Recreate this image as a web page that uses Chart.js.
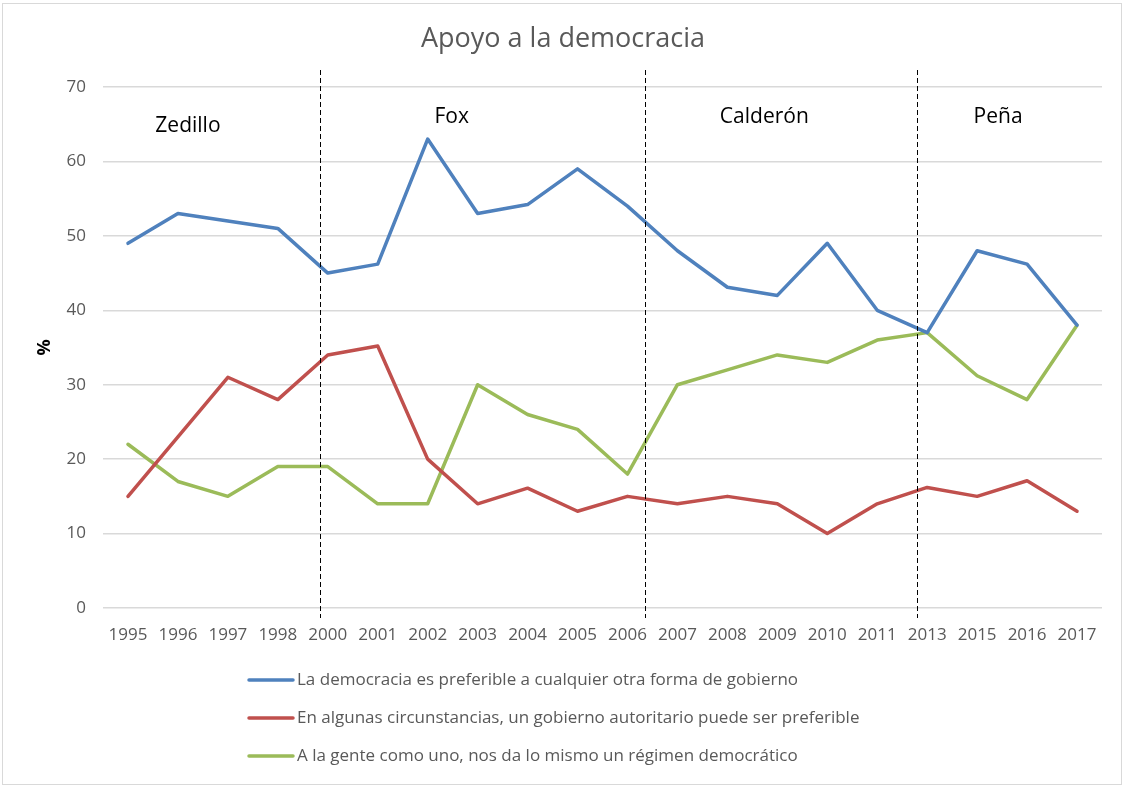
<!DOCTYPE html>
<html>
<head>
<meta charset="utf-8">
<script src="https://cdn.jsdelivr.net/npm/chart.js@4"></script>
<style>
  html, body { margin: 0; padding: 0; background: #fff; }
  #wrap { position: relative; width: 1125px; height: 788px; }
  #frame { position: absolute; left: 2px; top: 3px; width: 1120px; height: 782px;
           border: 1.5px solid #d9d9d9; box-sizing: border-box; pointer-events: none; }
</style>
</head>
<body>
<div id="wrap">
  <canvas id="chart" width="1125" height="788"></canvas>
  <div id="frame"></div>
</div>
<script>
// ===== Data =====
const years = ["1995","1996","1997","1998","2000","2001","2002","2003","2004","2005",
               "2006","2007","2008","2009","2010","2011","2013","2015","2016","2017"];

const democracia  = [49, 53, 52, 51, 45, 46.2, 63, 53, 54.2, 59, 54, 48, 43.1, 42, 49, 40, 37, 48, 46.2, 38];
const autoritario = [15, 23, 31, 28, 34, 35.2, 20, 14, 16.1, 13, 15, 14, 15, 14, 10, 14, 16.2, 15, 17.1, 13];
const indiferente = [22, 17, 15, 19, 19, 14, 14, 30, 26, 24, 18, 30, 32, 34, 33, 36, 37, 31.2, 28, 38];

const seriesNames = [
  "La democracia es preferible a cualquier otra forma de gobierno",
  "En algunas circunstancias, un gobierno autoritario puede ser preferible",
  "A la gente como uno, nos da lo mismo un régimen democrático"
];
const seriesColors = ["#4F81BD", "#C0504D", "#9BBB59"];

// sexenios: cortes (indice de categoria) y etiquetas
const termBreaks = [3.84, 10.36, 15.8];
const termNames  = ["Zedillo", "Fox", "Calderón", "Peña"];
const termAt     = [1.2, 6.48, 12.74, 17.42];
const termY      = [64.8, 66, 66, 66];

const TXT = "#595959";
const FONT = "'Open Sans', 'Liberation Sans', sans-serif";

// ===== Plugins =====
const extras = {
  id: "extras",
  afterDatasetsDraw(chart) {
    const ctx = chart.ctx;
    const x = chart.scales.x, y = chart.scales.y;

    // dashed term separators
    ctx.save();
    ctx.strokeStyle = "#000";
    ctx.lineWidth = 1;
    ctx.setLineDash([5, 3]);
    termBreaks.forEach(b => {
      const px = Math.round(x.getPixelForValue(b)) + 0.5;
      ctx.beginPath();
      ctx.moveTo(px, 70);
      ctx.lineTo(px, 618);
      ctx.stroke();
    });
    ctx.restore();

    // term names
    ctx.save();
    ctx.fillStyle = "#000";
    ctx.font = "21px " + FONT;
    ctx.textAlign = "center";
    ctx.textBaseline = "middle";
    termNames.forEach((n, i) => {
      ctx.fillText(n, x.getPixelForValue(termAt[i]), y.getPixelForValue(termY[i]));
    });
    ctx.restore();
  },
  afterDraw(chart) {
    const ctx = chart.ctx;
    // title
    ctx.save();
    ctx.fillStyle = TXT;
    ctx.font = "27px " + FONT;
    ctx.textAlign = "center";
    ctx.textBaseline = "middle";
    ctx.fillText("Apoyo a la democracia", 563, 39);
    ctx.restore();

    // legend (stacked, left aligned)
    ctx.save();
    chart.data.datasets.forEach((ds, i) => {
      const ly = 680 + i * 38;
      ctx.strokeStyle = ds.borderColor;
      ctx.lineWidth = 3.5;
      ctx.lineCap = "round";
      ctx.beginPath();
      ctx.moveTo(249, ly);
      ctx.lineTo(293, ly);
      ctx.stroke();
      ctx.fillStyle = TXT;
      ctx.font = "17px " + FONT;
      ctx.textAlign = "left";
      ctx.textBaseline = "middle";
      ctx.fillText(ds.label, 297, ly);
    });
    ctx.restore();
  }
};

// ===== Chart =====
const series = [democracia, autoritario, indiferente];

new Chart(document.getElementById("chart").getContext("2d"), {
  type: "line",
  data: {
    labels: years,
    datasets: series.map((s, i) => ({
      label: seriesNames[i],
      data: s,
      borderColor: seriesColors[i],
      backgroundColor: seriesColors[i],
      borderWidth: 3.5,
      pointRadius: 0,
      tension: 0,
      borderJoinStyle: "round",
      borderCapStyle: "round"
    }))
  },
  options: {
    responsive: false,
    animation: false,
    layout: { padding: { top: 87, right: 23, bottom: 136, left: 0 } },
    plugins: {
      legend: { display: false },
      title: { display: false },
      tooltip: { enabled: false }
    },
    scales: {
      x: {
        offset: true,
        grid: { display: false },
        border: { display: false },
        ticks: {
          color: TXT, font: { family: FONT, size: 17 },
          maxRotation: 0, autoSkip: false, padding: 9
        },
        afterFit(s) { s.height = 44; }
      },
      y: {
        min: 0, max: 70,
        ticks: { stepSize: 10, color: TXT, font: { family: FONT, size: 17 }, padding: 17 },
        grid: { color: "#d9d9d9", lineWidth: 1.5, drawTicks: false },
        border: { display: false },
        title: {
          display: true, text: "%", color: "#000",
          font: { family: FONT, size: 18, weight: "bold" },
          padding: { top: 34, bottom: 0 }
        },
        afterFit(s) { s.width = 103; }
      }
    }
  },
  plugins: [extras]
});
</script>
</body>
</html>
